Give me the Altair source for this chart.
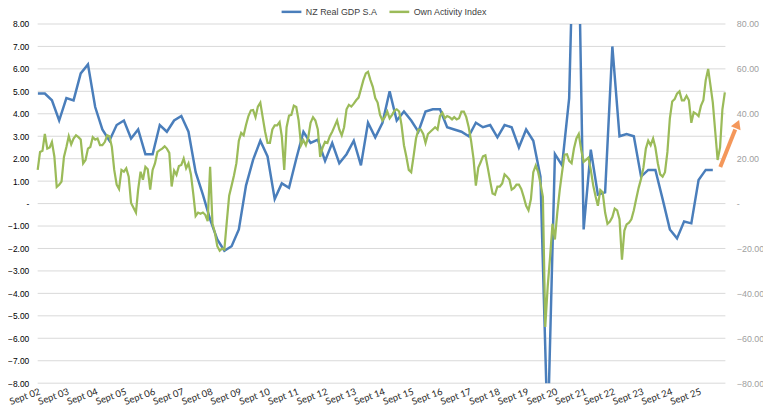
import altair as alt
import pandas as pd

# NZ real GDP, s.a., annual % change (left axis), quarterly from Sept 2002
gdp = [4.9, 4.9, 4.6, 3.7, 4.7, 4.6, 5.8, 6.2, 4.3, 3.3,
       2.8, 3.5, 3.7, 2.9, 3.3, 2.2, 2.2, 3.5, 3.2, 3.7,
       3.9, 3.2, 1.4, 0.4, -0.7, -1.6, -2.1, -1.9, -1.15, 0.8,
       1.95, 2.8, 2.1, 0.2, 0.9, 0.7, 2.0, 3.2, 2.7, 2.85,
       1.9, 2.7, 1.8, 2.2, 2.8, 1.7, 3.6, 2.95, 3.6, 5.0,
       3.7, 4.1, 3.7, 3.2, 4.1, 4.2, 4.2, 3.4, 3.3, 3.2,
       3.0, 3.6, 3.4, 3.5, 2.95, 3.5, 3.4, 2.5, 3.3, 2.8,
       1.2, -10.3, 2.2, 1.7, 4.7, 17.4, -1.15, 2.4, 0.4, 0.5,
       7.0, 3.0, 3.1, 3.0, 1.2, 1.5, 1.5, 0.2, -1.15, -1.55,
       -0.8, -0.88, 1.05, 1.5, 1.5]

# Own Activity Index (right axis), monthly from Sept 2002
activity = [15, 23, 23.5, 31, 24.5, 25, 27.4, 21, 7.4, 8.4,
            9.8, 20.8, 25.2, 30, 26.4, 29, 30.4, 29.6, 28.5, 17.9,
            19.4, 24.5, 25.2, 29.6, 28.5, 29, 26, 26, 27.4, 30.4,
            30, 25.2, 15, 8.4, 6.5, 15, 14.2, 15.7, 12, 0.3,
            -1.9, -4, 6.2, 14.2, 10.6, 16.4, 15.3, 6.2, 15, 17.9,
            23, 23.8, 24.5, 25.5, 24.5, 22.6, 7.6, 14.7, 12.8, 16.7,
            17.2, 20.1, 15.7, 17.9, 13, 4, -5.5, -4, -4.5, -4,
            -5, -7.8, 16.4, -9, -13, -19, -21, -20, -20.5, -8,
            3.5, 8, 12.5, 18, 28, 31.5, 30.4, 35, 39, 41.5,
            41.7, 38.5, 43.2, 45, 38.5, 32, 27, 27, 33, 34.8,
            34.8, 36.3, 30, 15, 34, 39.2, 39.5, 43.6, 43, 37,
            26, 28.2, 26, 29.6, 36, 38.5, 37, 33, 20.8, 25,
            27.5, 27, 30, 32, 34.5, 37, 33, 30.4, 34, 42,
            44, 43.2, 44.5, 46, 47.2, 51, 55, 58, 58.7, 55,
            52, 47, 45, 39.5, 37, 38.5, 41, 38, 39.5, 41.4,
            42, 41, 35, 26, 21, 15, 14, 21, 29, 33,
            33, 31, 27, 31, 32, 33, 34, 33, 39, 40.5,
            38, 39, 38.5, 37.5, 38.5, 37.5, 38, 41, 41, 38.5,
            34, 28, 20, 8, 16, 18.5, 21, 21.5, 16, 10,
            4.5, 4, 7.6, 7.6, 9, 13, 12, 10.6, 6.2, 7,
            8.4, 8.4, 6.5, 3, -1, -3, 2, 14, 17, 14,
            9, 3, -55, -37, -24, -9, -16, -4, 6, 14,
            21.8, 22, 19, 18, 24.5, 29, 31, 24, 18.6, 19.5,
            20.5, 15, 8, 3, -1, 6, 5, -4, -9, -8,
            -6, -2.2, -3, -7, -25, -12, -9.3, -8.5, -7, -3,
            2, 7, 11, 16, 24.5, 28, 26, 29, 25, 18,
            13, 12, 14, 23, 38, 45.5, 46.5, 49, 50, 46,
            46, 48, 46, 36, 40.7, 40, 39, 43.5, 46, 55,
            60, 52.2, 45, 32, 19.4, 25, 42, 49.5]

series_names = ["NZ Real GDP S.A", "Own Activity Index"]
tick_years = list(range(2002, 2026))
left_ticks = list(range(-8, 9))
right_ticks = list(range(-80, 81, 20))

# annotation arrow (orange), in data coordinates of the left axis
arrow_start = ("2026-06-04", 1.63)
arrow_end = ("2026-12-11", 3.30)
arrow_tip = ("2027-01-08", 3.54)

BLUE = "#4a7ebb"
GREEN = "#9bbb59"
ORANGE = "#f4975a"

df_gdp = pd.DataFrame({
    "date": pd.date_range("2002-09-01", periods=len(gdp), freq="3MS").strftime("%Y-%m-%d"),
    "value": gdp,
    "series": series_names[0],
})
df_act = pd.DataFrame({
    "date": pd.date_range("2002-09-01", periods=len(activity), freq="MS").strftime("%Y-%m-%d"),
    "value": activity,
    "series": series_names[1],
})
df_grid = pd.DataFrame({"value": left_ticks})
df_arrow = pd.DataFrame({"date": [arrow_start[0]], "date2": [arrow_end[0]],
                         "value": [arrow_start[1]], "value2": [arrow_end[1]]})
df_head = pd.DataFrame({"date": [arrow_tip[0]], "value": [arrow_tip[1]]})

x_scale = alt.Scale(type="utc", domain=[alt.DateTime(year=2002, month=9, date=1, utc=True),
                                        alt.DateTime(year=2026, month=8, date=8, utc=True)])
x_axis = alt.Axis(
    values=[alt.DateTime(year=y, month=9, date=1, utc=True) for y in tick_years],
    labelExpr="'Sept ' + utcFormat(datum.value, '%y')",
    labelAngle=-20, labelAlign="right", labelBaseline="top",
    labelFont="Lato", labelFontSize=9.5, labelColor="#262626", labelPadding=3,
    grid=False, ticks=False, domain=False, title=None, labelOverlap=False,
    labelBound=False, labelFlush=False,
)
x_enc = alt.X("date:T", scale=x_scale, axis=x_axis)

color_enc = alt.Color(
    "series:N",
    scale=alt.Scale(domain=series_names, range=[BLUE, GREEN]),
    legend=alt.Legend(
        orient="none", legendX=245, legendY=-24, direction="horizontal",
        title=None, symbolType="stroke", symbolStrokeWidth=2.5, symbolSize=400,
        labelFont="Liberation Sans", labelFontSize=9, labelColor="#404040",
        columnPadding=6, labelOffset=3, padding=0,
    ),
)

left_axis = alt.Axis(
    values=left_ticks,
    labelExpr="datum.value == 0 ? '-\u2007\u2007' : format(datum.value, '.2f')",
    grid=False, ticks=False, domain=False,
    labelFont="Liberation Sans", labelFontSize=8.5, labelColor="#000000",
    labelPadding=9, title=None, labelOverlap=False, labelBound=False, labelFlush=False,
)
right_axis = alt.Axis(
    values=right_ticks, orient="right",
    labelExpr="datum.value == 0 ? '-' : format(datum.value, '.2f')",
    grid=False, ticks=False, domain=False,
    labelFont="Liberation Sans", labelFontSize=9, labelColor="#a0a0a0",
    labelPadding=11, labelAlign="left", title=None,
    labelOverlap=False, labelBound=False, labelFlush=False,
)
y_left = alt.Y("value:Q", scale=alt.Scale(domain=[-8, 8]), axis=left_axis)

grid_rules = alt.Chart(df_grid).mark_rule(color="#d9d9d9", strokeWidth=1).encode(
    y=y_left,
)
gdp_line = alt.Chart(df_gdp).mark_line(strokeWidth=2.5, clip=True).encode(
    x=x_enc, y=y_left, color=color_enc,
)
arrow_rule = alt.Chart(df_arrow).mark_rule(color=ORANGE, strokeWidth=4).encode(
    x=x_enc, x2="date2:T", y=y_left, y2="value2:Q",
)
arrow_head = alt.Chart(df_head).mark_point(
    shape="triangle-up", filled=True, color=ORANGE, size=110, angle=22, opacity=1
).encode(
    x=x_enc, y=y_left,
)
act_line = alt.Chart(df_act).mark_line(strokeWidth=2.25).encode(
    x=x_enc,
    y=alt.Y("value:Q", scale=alt.Scale(domain=[-80, 80]), axis=right_axis),
    color=color_enc,
)

chart = alt.layer(
    alt.layer(grid_rules, gdp_line, arrow_rule, arrow_head),
    act_line,
).resolve_scale(y="independent").properties(
    width=695, height=363,
    autosize=alt.AutoSizeParams(type="none"),
    padding={"left": 30, "top": 14, "right": 38, "bottom": 30},
    background="white",
).configure_view(stroke=None)

chart.save("out.html", embed_options={"renderer": "svg", "actions": False})
